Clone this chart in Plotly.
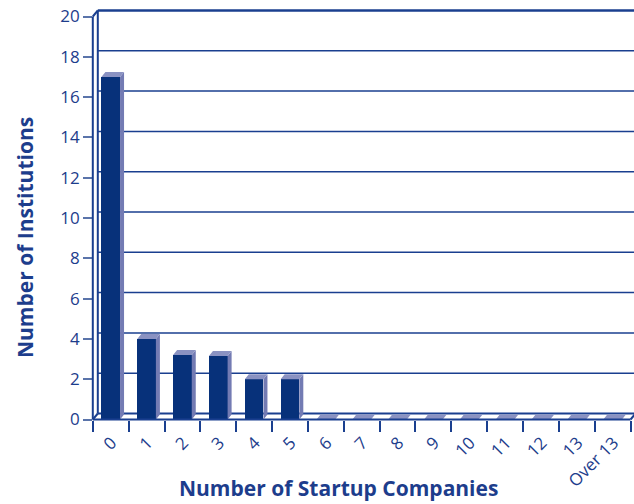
import plotly.graph_objects as go

categories = ["0", "1", "2", "3", "4", "5", "6", "7", "8", "9", "10", "11", "12", "13", "Over 13"]
institutions = [17, 4, 3.2, 3.15, 2, 2, 0, 0, 0, 0, 0, 0, 0, 0, 0]
y_ticks = [0, 2, 4, 6, 8, 10, 12, 14, 16, 18, 20]
x_title = "Number of Startup Companies"
y_title = "Number of Institutions"

NAVY = "#07317a"
LAV = "#8a92c2"
SIDE = "#737bb3"
TEXT = "#1d3d8c"
LINE = "#1a3f8f"
FONT = "Open Sans"

W, H = 634, 504
# plot geometry (pixels)
PL, PR, PT, PB = 86, 634, 6, 424
X0PX, UX = 92.8, 35.85       # pixel of x=-0.5, px per category
Y0PX, UY = 419.5, 20.15       # pixel of y=0, px per unit
xmin = -0.5 - (X0PX - PL) / UX
xmax = -0.5 + (PR - X0PX) / UX
ymin = -(PB - Y0PX) / UY
ymax = (Y0PX - PT) / UY

# 3D depths in data units
WDX, WDY = 5 / UX, 6 / UY     # wall depth
BDX, BDY = 4 / UX, 5 / UY     # bar depth
BW = 0.52

n = len(categories)
xs = list(range(n))

fig = go.Figure()

# front faces
fig.add_trace(go.Bar(x=xs, y=institutions, width=BW, marker=dict(color=NAVY, line=dict(width=0)),
                     hoverinfo="skip", showlegend=False))

# top faces and side faces
tx, ty, sx, sy = [], [], [], []
for x, v in zip(xs, institutions):
    a, b = x - BW / 2, x + BW / 2
    tx += [a, b, b + BDX, a + BDX, a, None]
    ty += [v, v, v + BDY, v + BDY, v, None]
    if v > 0:
        sx += [b, b + BDX, b + BDX, b, b, None]
        sy += [0, BDY, v + BDY, v, 0, None]
fig.add_trace(go.Scatter(x=sx, y=sy, fill="toself", fillcolor=SIDE, mode="lines",
                         line=dict(width=0, color=SIDE), hoverinfo="skip", showlegend=False))
fig.add_trace(go.Scatter(x=tx, y=ty, fill="toself", fillcolor=LAV, mode="lines",
                         line=dict(width=0, color=LAV), hoverinfo="skip", showlegend=False))

shapes = []
left_front = -0.5
left_back = -0.5 + WDX
right_front = n - 0.5
# gridlines on back wall
for t in y_ticks[1:-1]:
    shapes.append(dict(type="line", xref="x", yref="y", x0=left_back, x1=xmax, y0=t + WDY, y1=t + WDY,
                       line=dict(color=LINE, width=1.5), layer="below"))
wall = dict(color=LINE, width=2)
# top of back wall
shapes.append(dict(type="line", xref="x", yref="y", x0=left_back, x1=xmax, y0=y_ticks[-1] + WDY,
                   y1=y_ticks[-1] + WDY, line=dict(color=LINE, width=2.5), layer="below"))
# left wall lines
shapes.append(dict(type="line", xref="x", yref="y", x0=left_front, x1=left_front, y0=0, y1=y_ticks[-1],
                   line=wall, layer="above"))
shapes.append(dict(type="line", xref="x", yref="y", x0=left_back, x1=left_back, y0=WDY, y1=y_ticks[-1] + WDY,
                   line=wall, layer="below"))
shapes.append(dict(type="line", xref="x", yref="y", x0=left_front, x1=left_back, y0=y_ticks[-1],
                   y1=y_ticks[-1] + WDY, line=wall, layer="below"))
shapes.append(dict(type="line", xref="x", yref="y", x0=left_front, x1=left_back, y0=0, y1=WDY,
                   line=wall, layer="below"))
# floor
shapes.append(dict(type="line", xref="x", yref="y", x0=left_back, x1=xmax, y0=WDY, y1=WDY,
                   line=wall, layer="below"))
shapes.append(dict(type="line", xref="x", yref="y", x0=left_front, x1=right_front, y0=0, y1=0,
                   line=wall, layer="above"))
shapes.append(dict(type="line", xref="x", yref="y", x0=right_front, x1=right_front + WDX, y0=0, y1=WDY,
                   line=wall, layer="above"))

annotations = [
    dict(text="<b>" + x_title + "</b>", xref="paper", yref="paper", x=338 / W, y=(H - 488) / H,
         xanchor="center", yanchor="middle", showarrow=False, font=dict(size=21, color=TEXT, family=FONT)),
    dict(text="<b>" + y_title + "</b>", xref="paper", yref="paper", x=25 / W, y=(H - 238) / H,
         xanchor="center", yanchor="middle", textangle=-90, showarrow=False,
         font=dict(size=21, color=TEXT, family=FONT)),
]

fig.update_layout(
    width=W, height=H, margin=dict(l=0, r=0, t=0, b=0, autoexpand=False),
    paper_bgcolor="white", plot_bgcolor="white",
    shapes=shapes, annotations=annotations, bargap=0,
    font=dict(family=FONT, color=TEXT),
    xaxis=dict(domain=[PL / W, PR / W], range=[xmin, xmax], anchor="free", position=(H - Y0PX) / H,
               automargin=False,
               tickvals=xs, ticktext=categories, tickangle=-45, ticks="", showgrid=False, zeroline=False,
               showline=False, tickfont=dict(size=17, color=TEXT), ticklabelstandoff=9, ticklabelshift=1,
               minor=dict(tickvals=[i - 0.5 for i in range(n + 1)], ticks="outside", ticklen=11,
                          tickcolor=LINE, tickwidth=1.5, showgrid=False)),
    yaxis=dict(domain=[(H - PB) / H, (H - PT) / H], range=[ymin, ymax], anchor="free", automargin=False,
               position=X0PX / W - 0.001, tickvals=y_ticks, ticks="outside", ticklen=9, tickcolor="#5a74aa",
               tickwidth=1.5, showgrid=False, zeroline=False, showline=False,
               tickfont=dict(size=17, color=TEXT)),
)

fig.write_html("out.html")
